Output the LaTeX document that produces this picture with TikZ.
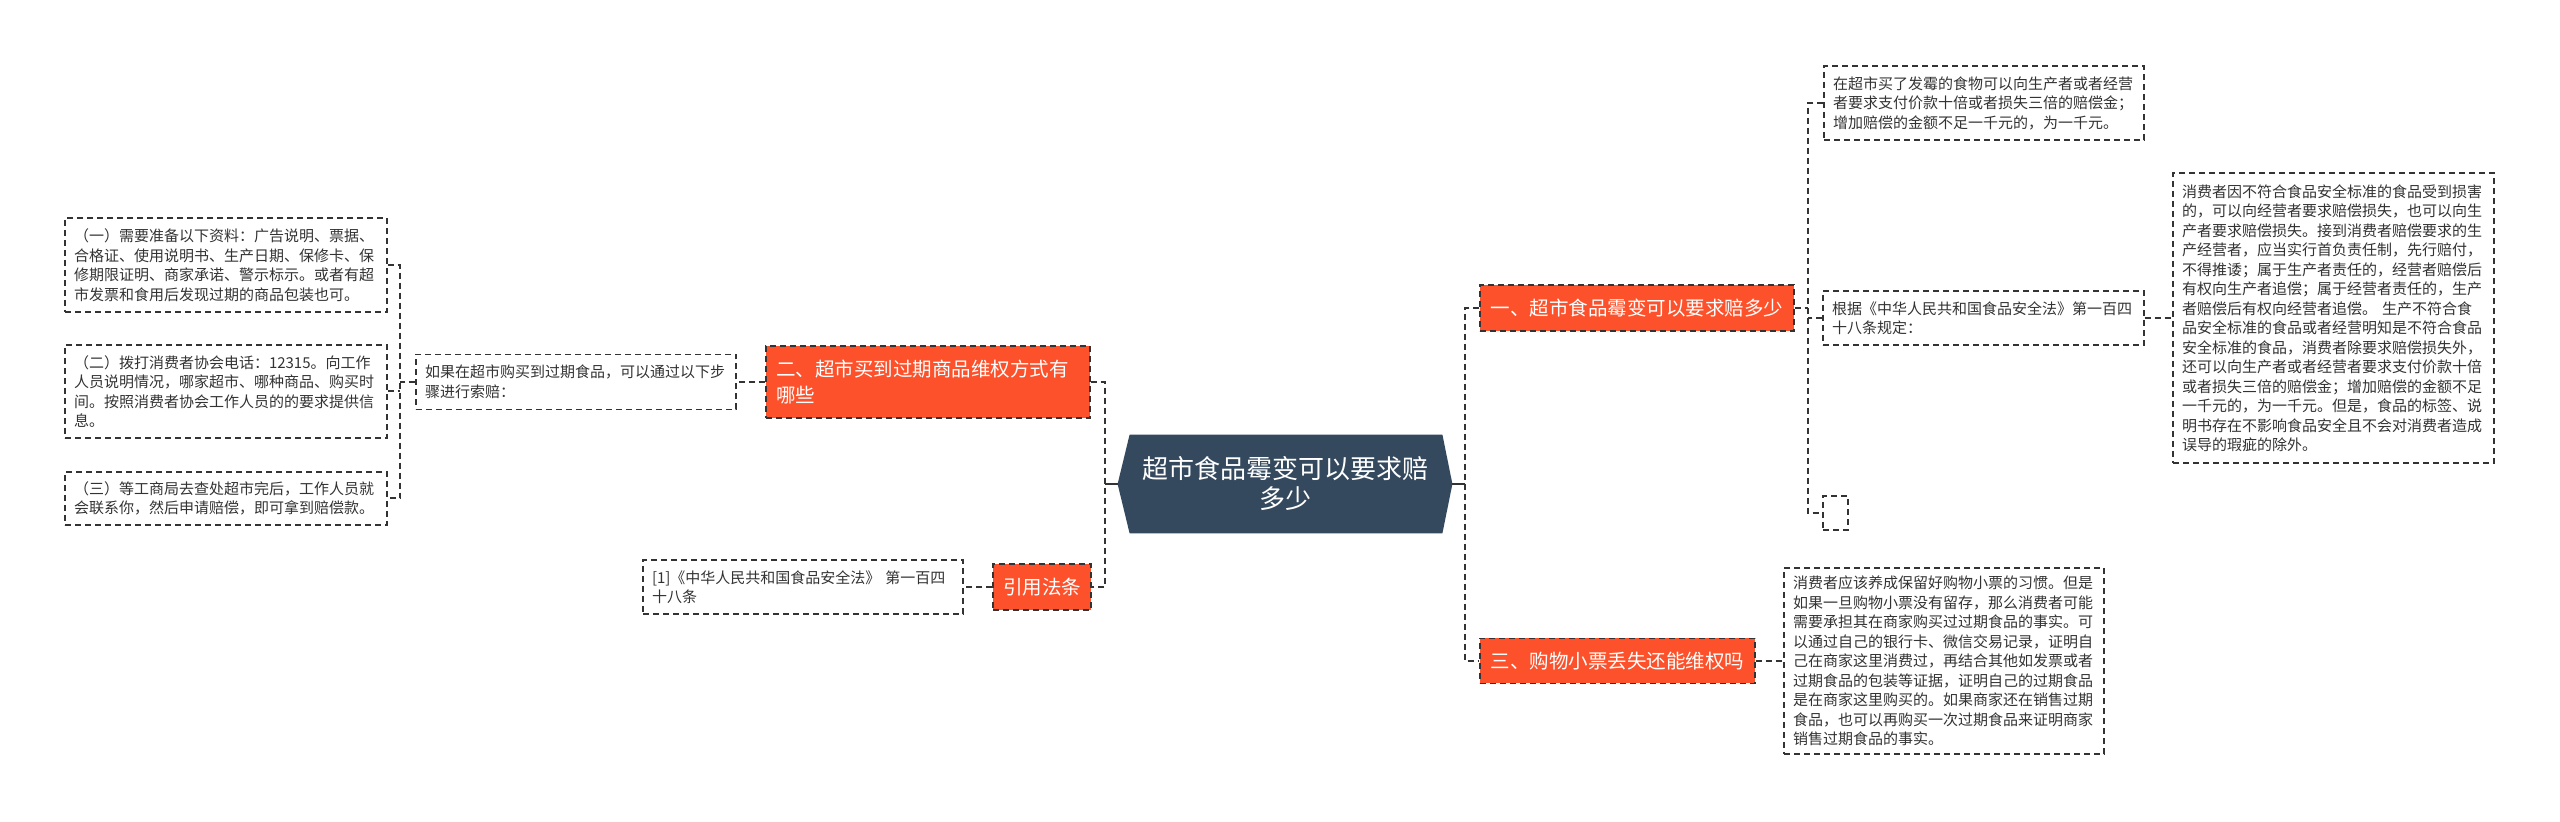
\documentclass[tikz,border=0pt]{standalone}
\usepackage{fontspec}
\newfontfamily\cjk{Noto Sans CJK SC}
\usetikzlibrary{backgrounds}
\definecolor{orng}{RGB}{252,81,42}
\definecolor{hexc}{RGB}{52,73,94}
\definecolor{lnc}{RGB}{51,51,51}
\definecolor{txc}{RGB}{51,51,51}
\tikzset{
  sbox/.style={draw=lnc, dash pattern=on 3pt off 2pt, line width=0.7pt, fill=white, text=txc,
    font=\cjk\fontsize{7.5pt}{9.75pt}\selectfont, align=left, inner xsep=4.5pt, inner ysep=0pt},
  obox/.style={draw=lnc, dash pattern=on 3pt off 2pt, line width=0.7pt, fill=orng, text=white,
    font=\cjk\fontsize{9.75pt}{13pt}\selectfont, inner sep=0pt},
  hexnode/.style={text=white, font=\cjk\fontsize{13pt}{15pt}\selectfont, align=center,
    inner sep=0pt, minimum width=167pt, minimum height=49pt},
  conn/.style={draw=lnc, line width=1pt, dash pattern=on 3pt off 2pt},
  stub/.style={draw=lnc, line width=1pt},
}
\begin{document}
\begin{tikzpicture}[x=0.5pt,y=-0.5pt]
\useasboundingbox (0,0) rectangle (2560,822);
\begin{scope}[on background layer]
  \fill[white] (0,0) rectangle (2560,822);
\end{scope}

% central node
\node[hexnode] (HEX) at (1285,484) {超市食品霉变可以要求赔\\多少};
\begin{scope}[on background layer]
  \fill[hexc] (HEX.west) -- ([xshift=6pt]HEX.north west) -- ([xshift=-5pt]HEX.north east)
    -- (HEX.east) -- ([xshift=-5pt]HEX.south east) -- ([xshift=6pt]HEX.south west) -- cycle;
\end{scope}

% left side
\node[obox, align=left, inner xsep=5pt, text width=152pt, minimum height=36pt] (ER) at (928,382)
  {二、超市买到过期商品维权方式有\\哪些};
\node[obox, align=center, minimum width=49pt, minimum height=23pt] (CIT) at (1042,587) {引用法条};
\node[sbox, text width=151pt, minimum height=27pt] (REF) at (803,587)
  {[1]《中华人民共和国食品安全法》 第一百四\\十八条};
\node[sbox, text width=151pt, minimum height=27.5pt] (RU) at (576,382)
  {如果在超市购买到过期食品，可以通过以下步\\骤进行索赔：};
\node[sbox, text width=152pt, minimum height=47pt] (L1) at (226,265)
  {（一）需要准备以下资料：广告说明、票据、\\合格证、使用说明书、生产日期、保修卡、保\\修期限证明、商家承诺、警示标示。或者有超\\市发票和食用后发现过期的商品包装也可。};
\node[sbox, text width=152pt, minimum height=46.5pt] (L2) at (226,391.5)
  {（二）拨打消费者协会电话：12315。向工作\\人员说明情况，哪家超市、哪种商品、购买时\\间。按照消费者协会工作人员的的要求提供信\\息。};
\node[sbox, text width=152pt, minimum height=26.5pt] (L3) at (226,498.5)
  {（三）等工商局去查处超市完后，工作人员就\\会联系你，然后申请赔偿，即可拿到赔偿款。};

% right side
\node[obox, align=center, minimum width=157pt, minimum height=23pt] (YI) at (1637,308)
  {一、超市食品霉变可以要求赔多少};
\node[obox, align=center, minimum width=137.5pt, minimum height=22.5pt] (SAN) at (1617.5,661)
  {三、购物小票丢失还能维权吗};
\node[sbox, text width=151pt, minimum height=37pt] (T1) at (1984,103)
  {在超市买了发霉的食物可以向生产者或者经营\\者要求支付价款十倍或者损失三倍的赔偿金；\\增加赔偿的金额不足一千元的，为一千元。};
\node[sbox, text width=151.5pt, minimum height=27pt] (GJ) at (1983.5,318)
  {根据《中华人民共和国食品安全法》第一百四\\十八条规定：};
\node[sbox, inner sep=0pt, minimum width=12.5pt, minimum height=17pt] (SM) at (1835.5,513) {};
\node[sbox, text width=151.5pt, minimum height=145pt] (FR) at (2333.5,318)
  {消费者因不符合食品安全标准的食品受到损害\\的，可以向经营者要求赔偿损失，也可以向生\\产者要求赔偿损失。接到消费者赔偿要求的生\\产经营者，应当实行首负责任制，先行赔付，\\不得推诿；属于生产者责任的，经营者赔偿后\\有权向生产者追偿；属于经营者责任的，生产\\者赔偿后有权向经营者追偿。 生产不符合食\\品安全标准的食品或者经营明知是不符合食品\\安全标准的食品，消费者除要求赔偿损失外，\\还可以向生产者或者经营者要求支付价款十倍\\或者损失三倍的赔偿金；增加赔偿的金额不足\\一千元的，为一千元。但是，食品的标签、说\\明书存在不影响食品安全且不会对消费者造成\\误导的瑕疵的除外。};
\node[sbox, text width=151pt, minimum height=93pt] (C3) at (1944,661)
  {消费者应该养成保留好购物小票的习惯。但是\\如果一旦购物小票没有留存，那么消费者可能\\需要承担其在商家购买过过期食品的事实。可\\以通过自己的银行卡、微信交易记录，证明自\\己在商家这里消费过，再结合其他如发票或者\\过期食品的包装等证据，证明自己的过期食品\\是在商家这里购买的。如果商家还在销售过期\\食品，也可以再购买一次过期食品来证明商家\\销售过期食品的事实。};

% bus coordinates
\coordinate (lb) at (1105,484);
\coordinate (lb2) at (400,391.5);
\coordinate (rb) at (1465,484);
\coordinate (rb2) at (1808,308);

% connectors: left
\draw[stub] (HEX.west) -- (lb);
\draw[conn] (ER.east) -- (ER.east -| lb) -- (CIT.east -| lb) -- (CIT.east);
\draw[conn] (ER.west) -- (RU.east);
\draw[conn] (CIT.west) -- (REF.east);
\draw[conn] (RU.west) -- (RU.west -| lb2);
\draw[conn] (L1.east) -- (L1.east -| lb2) -- (L3.east -| lb2) -- (L3.east);
\draw[conn] (L2.east) -- (lb2);

% connectors: right
\draw[stub] (HEX.east) -- (rb);
\draw[conn] (YI.west) -- (YI.west -| rb) -- (SAN.west -| rb) -- (SAN.west);
\draw[conn] (YI.east) -- (rb2);
\draw[conn] (T1.west) -- (T1.west -| rb2) -- (SM.west -| rb2) -- (SM.west);
\draw[conn] (GJ.west) -- (GJ.west -| rb2);
\draw[conn] (GJ.east) -- (FR.west);
\draw[conn] (SAN.east) -- (C3.west);
\end{tikzpicture}
\end{document}
